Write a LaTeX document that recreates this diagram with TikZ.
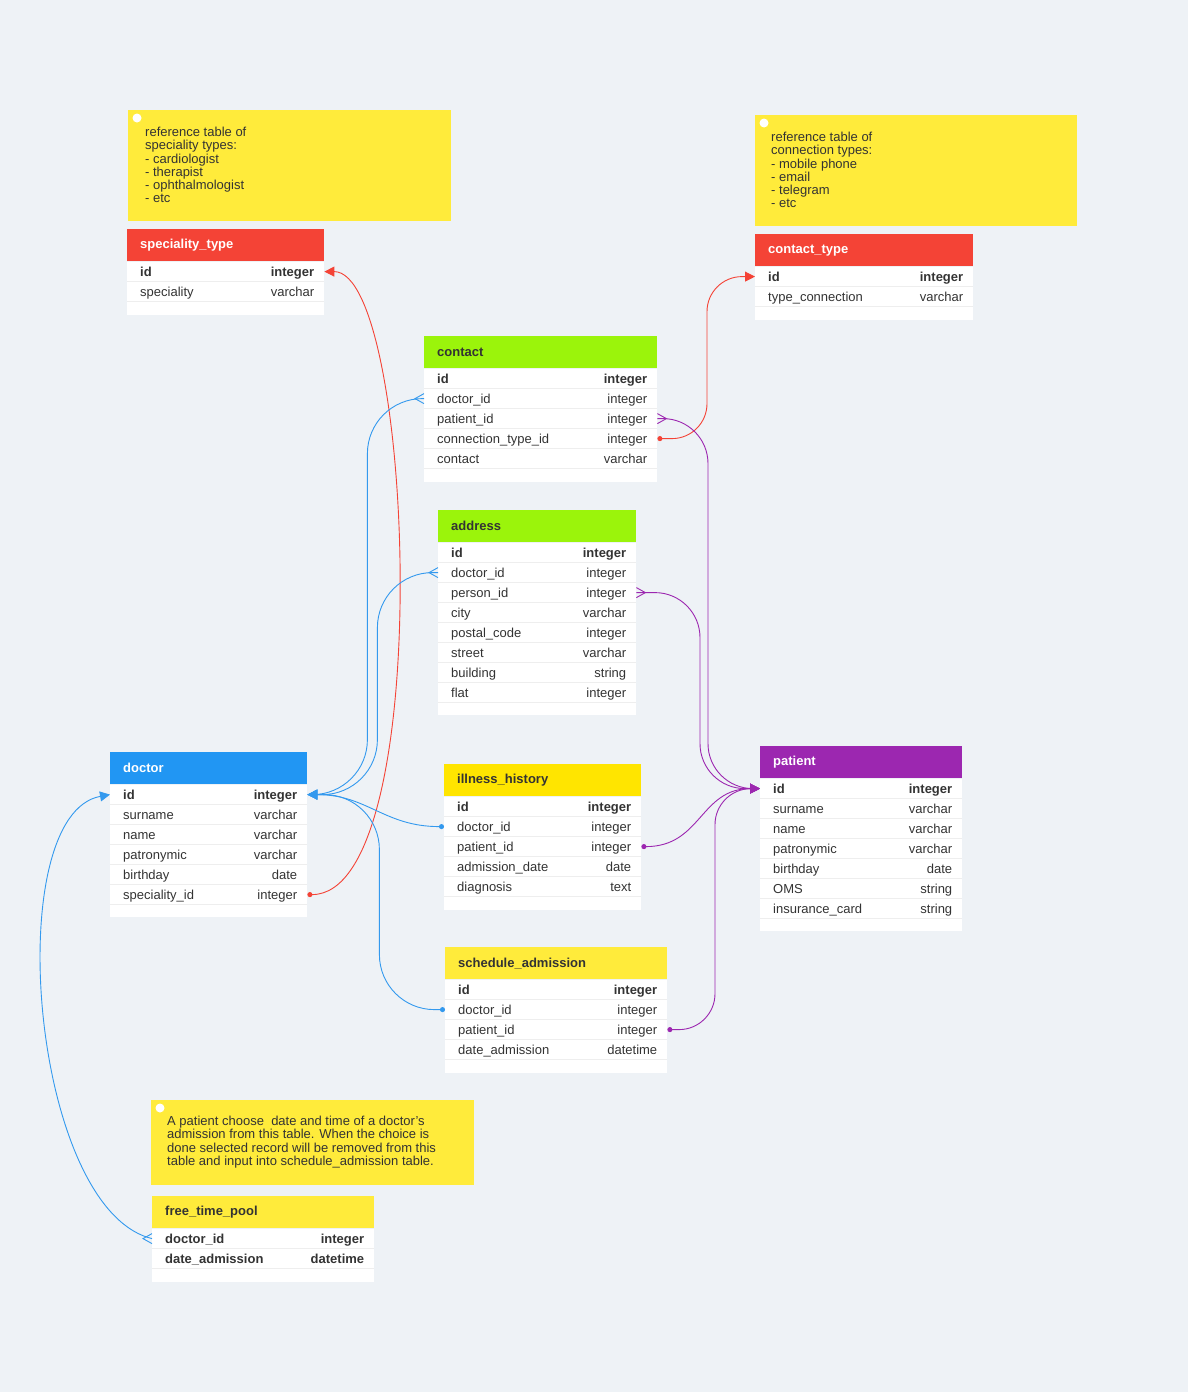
\documentclass[tikz,border=0pt]{standalone}
\usepackage{fontspec}
\setmainfont{Liberation Sans}
\usetikzlibrary{arrows.meta,positioning}

\definecolor{canvas}{HTML}{EEF2F6}
\definecolor{ink}{HTML}{333333}
\definecolor{refred}{HTML}{F44336}
\definecolor{docblue}{HTML}{2196F3}
\definecolor{linkblue}{HTML}{3399EE}
\definecolor{patpurple}{HTML}{9C27B0}
\definecolor{tablime}{HTML}{9BF40B}
\definecolor{sunyellow}{HTML}{FFE500}
\definecolor{noteyellow}{HTML}{FFEB3B}
\definecolor{rowline}{HTML}{EEEEEE}

\tikzset{
  head/.style={anchor=north west, minimum height=32pt, inner xsep=13pt, inner ysep=0pt, align=left, font=\fontsize{13}{15}\selectfont\bfseries, text=ink},
  body/.style={fill=white, inner sep=0pt},
  row/.style={anchor=north, minimum height=20pt, inner sep=0pt},
  celltext/.style={inner sep=0pt, text height=9pt, text depth=3pt, text=ink, font=\fontsize{13}{15}\selectfont},
  keytext/.style={celltext, font=\fontsize{13}{15}\selectfont\bfseries},
  rowsep/.style={draw=rowline, line width=1pt},
  note/.style={anchor=north west, fill=noteyellow, inner sep=0pt},
  notetext/.style={anchor=north west, inner sep=0pt, align=left, text=ink, font=\fontsize{13}{13.2}\selectfont},
  notedot/.style={fill=white},
  manyend/.pic={\draw (0,-5) -- (-9,0) -- (0,5);},
  keydot/.tip={Circle[length=5pt]},
  pkarrow/.tip={Triangle[length=10pt, width=10pt]},
  link/.style={line width=0.9pt},
}

\begin{document}
\begin{tikzpicture}[x=1pt, y=-1pt]
\useasboundingbox (0,0) rectangle (1188,1392);
\fill[canvas] (0,0) rectangle (1188,1392);

% notes
\node[note, minimum width=323pt, minimum height=111pt] (spec-note) at (128,110) {};
\fill[notedot] ([shift={(9,8)}]spec-note.north west) circle (4.5pt);
\node[notetext] at ([shift={(17,17)}]spec-note.north west) {reference table of\\speciality types:\\- cardiologist\\- therapist\\- ophthalmologist\\- etc};

\node[note, minimum width=322pt, minimum height=111pt] (ctype-note) at (755,115) {};
\fill[notedot] ([shift={(9,8)}]ctype-note.north west) circle (4.5pt);
\node[notetext] at ([shift={(16,17)}]ctype-note.north west) {reference table of\\connection types:\\- mobile phone\\- email\\- telegram\\- etc};

\node[note, minimum width=323pt, minimum height=85pt] (free-note) at (151,1100) {};
\fill[notedot] ([shift={(9,8)}]free-note.north west) circle (4.5pt);
\node[notetext] at ([shift={(16,16)}]free-note.north west) {A patient choose \ date and time of a doctor's\\admission from this table. When the choice is\\done selected record will be removed from this\\table and input into schedule\_admission table.};

% speciality_type
\node[head, fill=refred, text=white, text width=171pt] (spec) at (127,229) {speciality\_type};
\node[body, minimum width=197pt, minimum height=53pt, below=0pt of spec] (spec-body) {};
\foreach \f/\t/\s [count=\i] in {id/integer/keytext, speciality/varchar/celltext}{
  \node[row, minimum width=197pt] (spec-\i) at ([yshift={(1-\i)*20pt}]spec-body.north) {};
  \node[\s, anchor=west] at ([shift={(13,1.5)}]spec-\i.west) {\f};
  \node[\s, anchor=east] at ([shift={(-10,1.5)}]spec-\i.east) {\t};
  \draw[rowsep] (spec-\i.south west) -- (spec-\i.south east);
}

% contact_type
\node[head, fill=refred, text=white, text width=192pt] (ctype) at (755,234) {contact\_type};
\node[body, minimum width=218pt, minimum height=53pt, below=0pt of ctype] (ctype-body) {};
\foreach \f/\t/\s [count=\i] in {id/integer/keytext, type\_connection/varchar/celltext}{
  \node[row, minimum width=218pt] (ctype-\i) at ([yshift={(1-\i)*20pt}]ctype-body.north) {};
  \node[\s, anchor=west] at ([shift={(13,1.5)}]ctype-\i.west) {\f};
  \node[\s, anchor=east] at ([shift={(-10,1.5)}]ctype-\i.east) {\t};
  \draw[rowsep] (ctype-\i.south west) -- (ctype-\i.south east);
}

% contact
\node[head, fill=tablime, text width=207pt] (contact) at (424,336) {contact};
\node[body, minimum width=233pt, minimum height=113pt, below=0pt of contact] (contact-body) {};
\foreach \f/\t/\s [count=\i] in {id/integer/keytext, doctor\_id/integer/celltext, patient\_id/integer/celltext, connection\_type\_id/integer/celltext, contact/varchar/celltext}{
  \node[row, minimum width=233pt] (contact-\i) at ([yshift={(1-\i)*20pt}]contact-body.north) {};
  \node[\s, anchor=west] at ([shift={(13,1.5)}]contact-\i.west) {\f};
  \node[\s, anchor=east] at ([shift={(-10,1.5)}]contact-\i.east) {\t};
  \draw[rowsep] (contact-\i.south west) -- (contact-\i.south east);
}

% address
\node[head, fill=tablime, text width=172pt] (address) at (438,510) {address};
\node[body, minimum width=198pt, minimum height=172pt, below=0pt of address] (address-body) {};
\foreach \f/\t/\s [count=\i] in {id/integer/keytext, doctor\_id/integer/celltext, person\_id/integer/celltext, city/varchar/celltext, postal\_code/integer/celltext, street/varchar/celltext, building/string/celltext, flat/integer/celltext}{
  \node[row, minimum width=198pt] (address-\i) at ([yshift={(1-\i)*20pt}]address-body.north) {};
  \node[\s, anchor=west] at ([shift={(13,1.5)}]address-\i.west) {\f};
  \node[\s, anchor=east] at ([shift={(-10,1.5)}]address-\i.east) {\t};
  \draw[rowsep] (address-\i.south west) -- (address-\i.south east);
}

% doctor
\node[head, fill=docblue, text=white, text width=171pt] (doctor) at (110,752) {doctor};
\node[body, minimum width=197pt, minimum height=132pt, below=0pt of doctor] (doctor-body) {};
\foreach \f/\t/\s [count=\i] in {id/integer/keytext, surname/varchar/celltext, name/varchar/celltext, patronymic/varchar/celltext, birthday/date/celltext, speciality\_id/integer/celltext}{
  \node[row, minimum width=197pt] (doctor-\i) at ([yshift={(1-\i)*20pt}]doctor-body.north) {};
  \node[\s, anchor=west] at ([shift={(13,1.5)}]doctor-\i.west) {\f};
  \node[\s, anchor=east] at ([shift={(-10,1.5)}]doctor-\i.east) {\t};
  \draw[rowsep] (doctor-\i.south west) -- (doctor-\i.south east);
}

% illness_history
\node[head, fill=sunyellow, text width=171pt] (illness) at (444,764) {illness\_history};
\node[body, minimum width=197pt, minimum height=113pt, below=0pt of illness] (illness-body) {};
\foreach \f/\t/\s [count=\i] in {id/integer/keytext, doctor\_id/integer/celltext, patient\_id/integer/celltext, admission\_date/date/celltext, diagnosis/text/celltext}{
  \node[row, minimum width=197pt] (illness-\i) at ([yshift={(1-\i)*20pt}]illness-body.north) {};
  \node[\s, anchor=west] at ([shift={(13,1.5)}]illness-\i.west) {\f};
  \node[\s, anchor=east] at ([shift={(-10,1.5)}]illness-\i.east) {\t};
  \draw[rowsep] (illness-\i.south west) -- (illness-\i.south east);
}

% schedule_admission
\node[head, fill=noteyellow, text width=196pt] (schedule) at (445,947) {schedule\_admission};
\node[body, minimum width=222pt, minimum height=93pt, below=0pt of schedule] (schedule-body) {};
\foreach \f/\t/\s [count=\i] in {id/integer/keytext, doctor\_id/integer/celltext, patient\_id/integer/celltext, date\_admission/datetime/celltext}{
  \node[row, minimum width=222pt] (schedule-\i) at ([yshift={(1-\i)*20pt}]schedule-body.north) {};
  \node[\s, anchor=west] at ([shift={(13,1.5)}]schedule-\i.west) {\f};
  \node[\s, anchor=east] at ([shift={(-10,1.5)}]schedule-\i.east) {\t};
  \draw[rowsep] (schedule-\i.south west) -- (schedule-\i.south east);
}

% patient
\node[head, fill=patpurple, text=white, text width=176pt] (patient) at (760,746) {patient};
\node[body, minimum width=202pt, minimum height=152pt, below=0pt of patient] (patient-body) {};
\foreach \f/\t/\s [count=\i] in {id/integer/keytext, surname/varchar/celltext, name/varchar/celltext, patronymic/varchar/celltext, birthday/date/celltext, OMS/string/celltext, insurance\_card/string/celltext}{
  \node[row, minimum width=202pt] (patient-\i) at ([yshift={(1-\i)*20pt}]patient-body.north) {};
  \node[\s, anchor=west] at ([shift={(13,1.5)}]patient-\i.west) {\f};
  \node[\s, anchor=east] at ([shift={(-10,1.5)}]patient-\i.east) {\t};
  \draw[rowsep] (patient-\i.south west) -- (patient-\i.south east);
}

% free_time_pool
\node[head, fill=noteyellow, text width=196pt] (free) at (152,1196) {free\_time\_pool};
\node[body, minimum width=222pt, minimum height=53pt, below=0pt of free] (free-body) {};
\foreach \f/\t/\s [count=\i] in {doctor\_id/integer/keytext, date\_admission/datetime/keytext}{
  \node[row, minimum width=222pt] (free-\i) at ([yshift={(1-\i)*20pt}]free-body.north) {};
  \node[\s, anchor=west] at ([shift={(13,1.5)}]free-\i.west) {\f};
  \node[\s, anchor=east] at ([shift={(-10,1.5)}]free-\i.east) {\t};
  \draw[rowsep] (free-\i.south west) -- (free-\i.south east);
}

% reference links
\draw[link, refred, keydot-pkarrow] (doctor-6.east) .. controls +(130,0) and +(90,0) .. (spec-1.east);
\draw[link, refred, keydot-pkarrow, rounded corners=35pt] (contact-4.east) -| ([xshift=-48pt]ctype-1.west) -- (ctype-1.west);

% doctor links
\draw[link, linkblue, -pkarrow, rounded corners=55pt] (contact-2.west) -| ([xshift=60pt]doctor-1.east) -- (doctor-1.east);
\draw[link, linkblue, -pkarrow, rounded corners=55pt] (address-2.west) -| ([xshift=70pt]doctor-1.east) -- (doctor-1.east);
\draw[link, linkblue, keydot-pkarrow] (illness-2.west) .. controls +(-60,0) and +(60,0) .. (doctor-1.east);
\draw[link, linkblue, keydot-pkarrow, rounded corners=55pt] (schedule-2.west) -| ([xshift=72pt]doctor-1.east) -- (doctor-1.east);
\draw[link, linkblue, -pkarrow] (free-1.west) .. controls +(-122,-30) and +(-110,20) .. (doctor-1.west);
\pic[link, linkblue] at (contact-2.west) {manyend};
\pic[link, linkblue] at (address-2.west) {manyend};
\pic[link, linkblue] at (free-1.west) {manyend};

% patient links
\draw[link, patpurple, -pkarrow, rounded corners=45pt] (contact-3.east) -| ([xshift=-52pt]patient-1.west) -- (patient-1.west);
\draw[link, patpurple, -pkarrow, rounded corners=45pt] (address-3.east) -| ([xshift=-60pt]patient-1.west) -- (patient-1.west);
\draw[link, patpurple, keydot-pkarrow] (illness-3.east) .. controls +(60,0) and +(-60,0) .. (patient-1.west);
\draw[link, patpurple, keydot-pkarrow, rounded corners=36pt] (schedule-3.east) -| ([xshift=-45pt]patient-1.west) -- (patient-1.west);
\pic[link, patpurple, xscale=-1] at (contact-3.east) {manyend};
\pic[link, patpurple, xscale=-1] at (address-3.east) {manyend};
\end{tikzpicture}
\end{document}
